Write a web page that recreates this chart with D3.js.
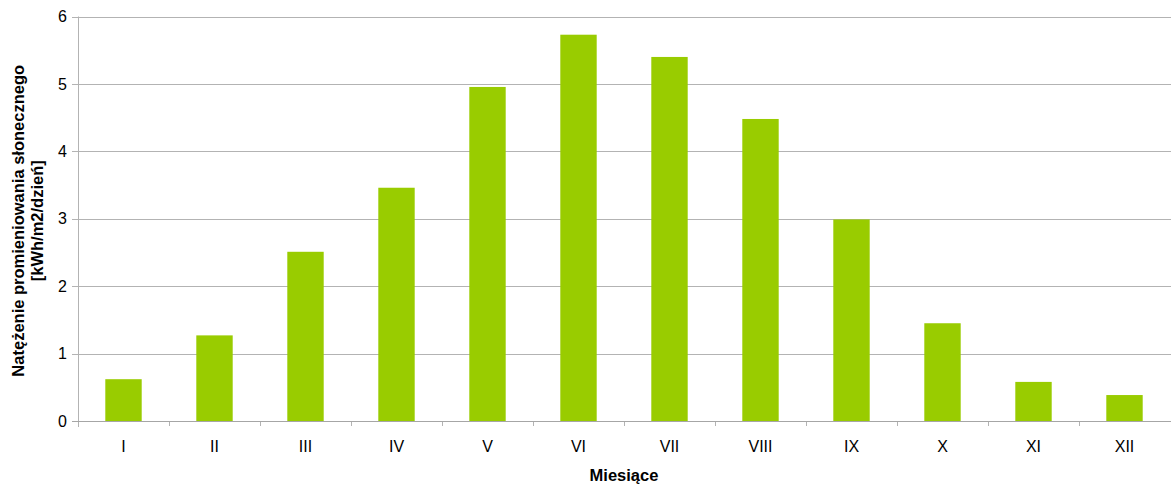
<!DOCTYPE html>
<html><head><meta charset="utf-8">
<script src="https://cdn.jsdelivr.net/npm/d3@7"></script>
<style>body{margin:0;background:#fff}svg{display:block}</style>
</head><body>
<svg id="c" width="1171" height="486"></svg>
<script>
const months = ["I","II","III","IV","V","VI","VII","VIII","IX","X","XI","XII"];
const values = [0.62,1.27,2.51,3.46,4.955,5.73,5.40,4.48,2.99,1.45,0.58,0.385];
const yTicks = [0,1,2,3,4,5,6];
const yTitle = ["Natężenie promieniowania słonecznego","[kWh/m2/dzień]"];
const xTitle = "Miesiące";

const svg = d3.select("#c");
const L = 78, R = 1170, T = 16.5, B = 421;
const font = "Liberation Sans, Arial, sans-serif";
const x = d3.scaleBand().domain(months).range([L, R]).paddingInner(0.6).paddingOuter(0.3);
const y = d3.scaleLinear().domain([0, 6]).range([B, T]);
const grid = "#b3b3b3";

// gridlines + y ticks
svg.append("g").selectAll("line").data(yTicks).join("line")
  .attr("x1", L - 6).attr("x2", 1171)
  .attr("y1", d => Math.round(y(d)) + 0.5).attr("y2", d => Math.round(y(d)) + 0.5)
  .attr("stroke", grid).attr("stroke-width", 1);
svg.append("g").selectAll("text").data(yTicks).join("text")
  .attr("x", L - 11).attr("y", d => y(d)).attr("dy", "0.35em")
  .attr("text-anchor", "end").attr("font-family", font).attr("font-size", 16).attr("fill", "#000")
  .text(d => d);

// y axis line
svg.append("line").attr("x1", L + 0.5).attr("x2", L + 0.5).attr("y1", T).attr("y2", B + 6)
  .attr("stroke", grid);

// x ticks at band boundaries
const step = x.step();
svg.append("g").selectAll("line").data(months.slice(1)).join("line")
  .attr("x1", d => Math.round(x(d) - x.paddingInner() * step / 2) + 0.5)
  .attr("x2", d => Math.round(x(d) - x.paddingInner() * step / 2) + 0.5)
  .attr("y1", B).attr("y2", B + 5).attr("stroke", grid);

// bars
svg.append("g").selectAll("rect").data(months).join("rect")
  .attr("x", d => x(d)).attr("width", x.bandwidth())
  .attr("y", (d, i) => y(values[i])).attr("height", (d, i) => B - y(values[i]))
  .attr("fill", "#99cc00");

// axis baseline on top
svg.append("line").attr("x1", L - 6).attr("x2", 1171)
  .attr("y1", Math.round(B) + 0.5).attr("y2", Math.round(B) + 0.5).attr("stroke", "#a6a6a6");

// x labels
svg.append("g").selectAll("text").data(months).join("text")
  .attr("x", d => x(d) + x.bandwidth() / 2).attr("y", 452)
  .attr("text-anchor", "middle").attr("font-family", font).attr("font-size", 16).attr("fill", "#000")
  .text(d => d);

// axis titles
svg.append("text").attr("x", (L + R) / 2).attr("y", 481)
  .attr("text-anchor", "middle").attr("font-family", font).attr("font-size", 16.5)
  .attr("font-weight", "bold").text(xTitle);
const yt = svg.append("text").attr("transform", `translate(0,${(T + B) / 2 + 2}) rotate(-90)`)
  .attr("text-anchor", "middle").attr("font-family", font).attr("font-size", 16.5).attr("font-weight", "bold");
yTitle.forEach((t, i) => yt.append("tspan").attr("x", 0).attr("y", 24 + i * 19).text(t));
</script>
</body></html>
